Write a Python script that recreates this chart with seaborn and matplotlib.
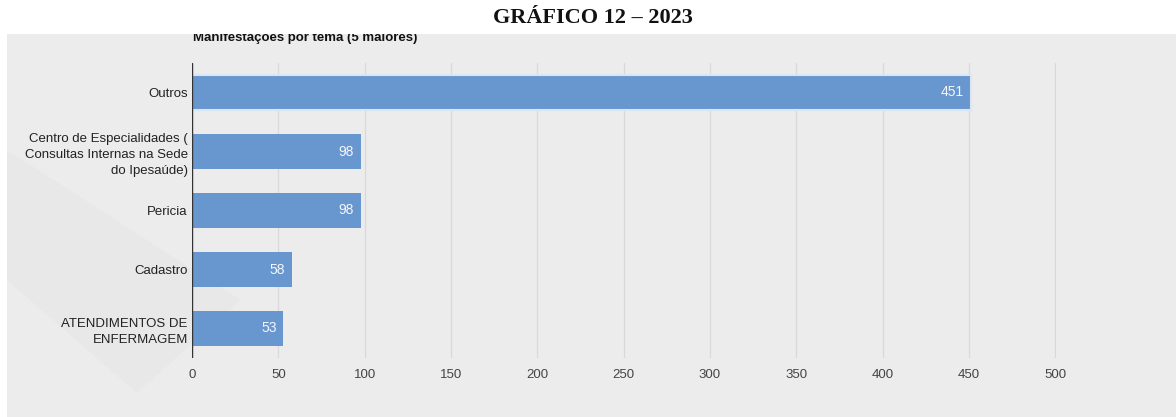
import matplotlib
matplotlib.use("Agg")
import matplotlib.pyplot as plt
import seaborn as sns
from matplotlib.patches import Rectangle, Polygon

# data
categories = [
    "Outros",
    "Centro de Especialidades (\nConsultas Internas na Sede\ndo Ipesaúde)",
    "Pericia",
    "Cadastro",
    "ATENDIMENTOS DE\nENFERMAGEM",
]
values = [451, 98, 98, 58, 53]
x_ticks = [0, 50, 100, 150, 200, 250, 300, 350, 400, 450, 500]

W, H = 1176, 417
BAR = "#6897cf"

sns.set_theme(style="white")
plt.rcParams["font.family"] = ["Liberation Sans", "DejaVu Sans"]

fig = plt.figure(figsize=(W / 100, H / 100), dpi=100)
fig.patch.set_facecolor("white")

# gray panel behind the chart, with a faint chevron shape
fig.add_artist(Rectangle((7 / W, 0), 1 - 7 / W, (H - 34) / H, transform=fig.transFigure,
                         facecolor="#ececec", edgecolor="none", zorder=-3))
fig.add_artist(Polygon([(7 / W, 1 - 280 / H), (137 / W, 1 - 393 / H), (240 / W, 1 - 300 / H),
                        (7 / W, 1 - 150 / H)], closed=True, transform=fig.transFigure,
                       facecolor="#e8e8e8", edgecolor="none", zorder=-2))

ax = fig.add_axes([192 / W, (H - 358) / H, 864 / W, 295 / H])
ax.set_facecolor("none")

sns.barplot(x=values, y=categories, orient="h", color=BAR, width=0.6,
            saturation=1, ax=ax, zorder=3, edgecolor="none", linewidth=0)

# highlighted first bar has a light inner border
ax.patches[0].set_edgecolor("#dbe6f4")
ax.patches[0].set_linewidth(1.5)

for cont in ax.containers:
    labels = ax.bar_label(cont, padding=-5, color="#f4f6fa", fontsize=10)
    for t in labels:
        t.set_ha("right")

ax.set_xlim(0, 500.5)
ax.set_xticks(x_ticks)
ax.set_xticklabels([str(v) for v in x_ticks])
ax.grid(axis="x", color="#d9d9d9", linewidth=0.9, zorder=0)
ax.grid(axis="y", visible=False)
ax.axvline(0, color="#333333", linewidth=1, zorder=4)
for s in ax.spines.values():
    s.set_visible(False)
ax.tick_params(axis="x", length=0, pad=8, labelsize=9.5, labelcolor="#444444")
ax.tick_params(axis="y", length=0, pad=3, labelsize=9.5, labelcolor="#222222")
for t in ax.get_yticklabels():
    t.set_linespacing(1.45)
ax.set_xlabel("")
ax.set_ylabel("")

# subtitle, partly hidden under the white strip at the top
fig.text(305 / W, 1 - 41 / H, "Manifestações por tema (5 maiores)", ha="center",
         va="baseline", fontsize=9.5, fontweight="bold", color="#111111", zorder=1)
fig.add_artist(Rectangle((0, 1 - 34 / H), 1, 34 / H, transform=fig.transFigure,
                         facecolor="white", edgecolor="none", zorder=5))
fig.text(593 / W, 1 - 18 / H, "GRÁFICO 12 – 2023", ha="center", va="center",
         fontsize=16, fontweight="bold", family=["Liberation Serif", "DejaVu Serif"],
         color="#111111", zorder=6)

fig.savefig("out.png", dpi=100)
